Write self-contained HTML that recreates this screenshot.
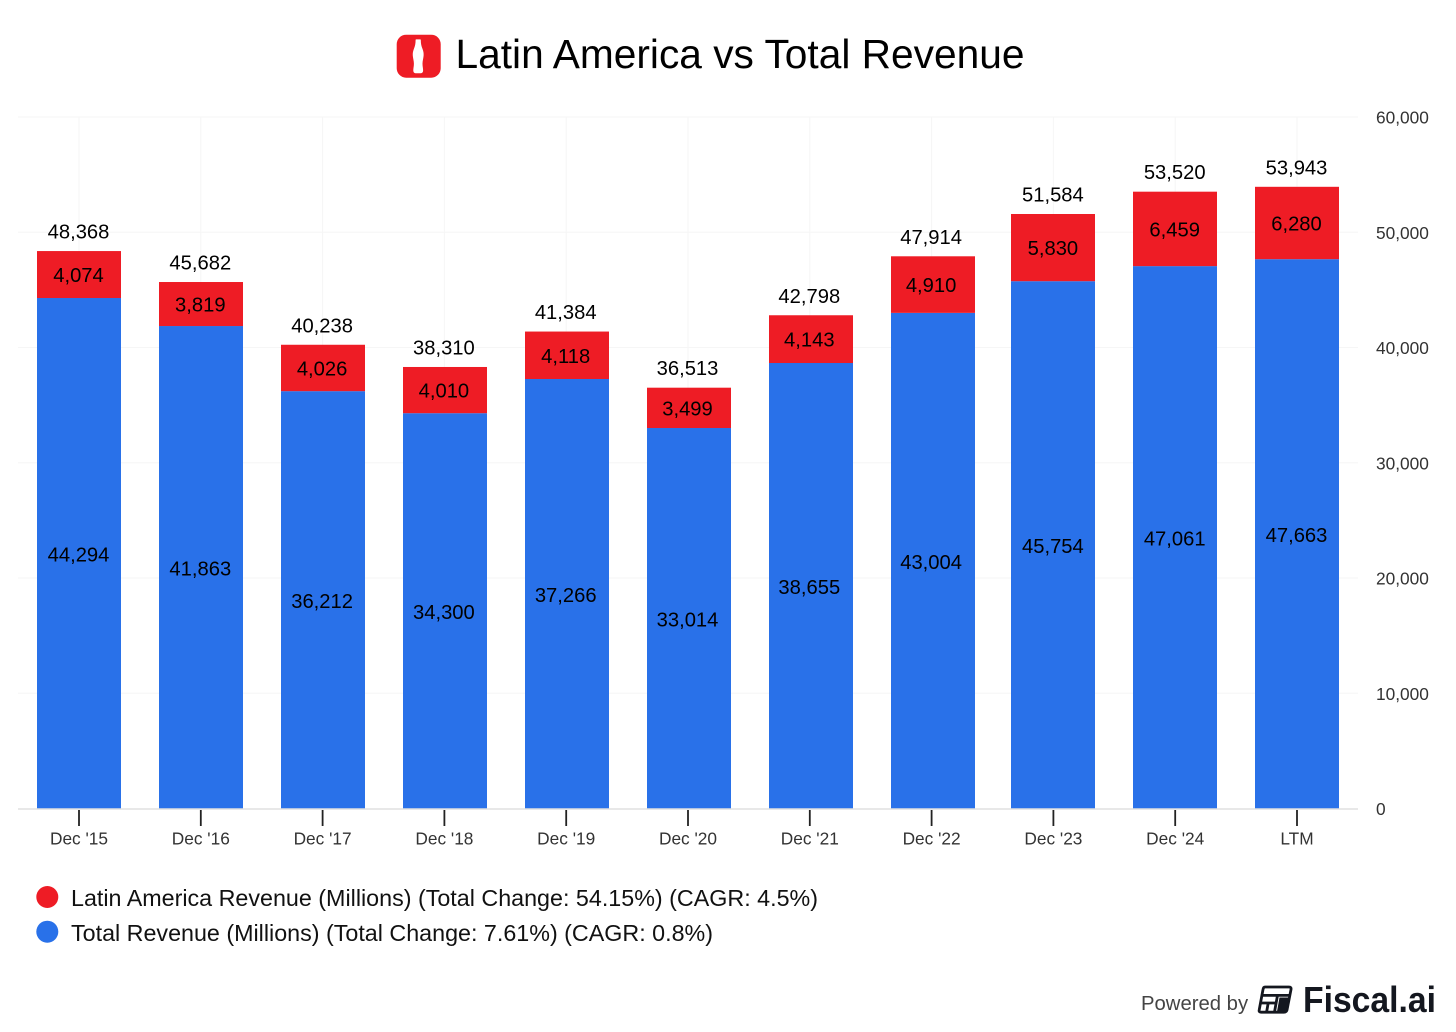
<!DOCTYPE html>
<html lang="en">
<head>
<meta charset="utf-8">
<title>Latin America vs Total Revenue</title>
<style>
  html, body { margin: 0; padding: 0; background: #ffffff; }
  body { width: 1456px; height: 1032px; overflow: hidden; }
  svg { display: block; font-family: "Liberation Sans", Arial, sans-serif; }
</style>
</head>
<body>
<svg id="chart" xmlns="http://www.w3.org/2000/svg" width="1456" height="1032" viewBox="0 0 1456 1032">
  <g>
    <rect x="396.7" y="34.7" width="44" height="43" rx="9.5" fill="#ee1c25"/>
    <path fill="#ffffff" d="M416.6 39.4 h3.6 c0.4 0 0.6 0.3 0.6 0.7 c0 3.6 0.6 6 1.7 8.8 c0.9 2.5 1.3 4.3 1.1 6.8 c-0.3 3.1 -1.1 5.2 -1.1 8 c0 2.8 0.7 4.8 0.6 7.1 c-0.1 1.5 -0.8 2.4 -2.2 2.4 h-5.4 c-1.4 0 -2.1 -0.9 -2.2 -2.4 c-0.1 -2.3 0.6 -4.3 0.6 -7.1 c0 -2.8 -0.8 -4.9 -1.1 -8 c-0.2 -2.5 0.2 -4.3 1.1 -6.8 c1.1 -2.8 1.7 -5.2 1.7 -8.8 c0 -0.4 0.2 -0.7 0.6 -0.7 z"/>
    <text x="455.5" y="68" font-size="40.4" fill="#000000" textLength="569" lengthAdjust="spacingAndGlyphs">Latin America vs Total Revenue</text>
  </g>
  <g id="grid"></g>
  <g id="bars"></g>
  <g id="xaxis"></g>
  <g id="yaxis"></g>
  <g id="labels"></g>
  <g>
    <g>
      <circle cx="47.3" cy="897" r="11" fill="#ee1c25"/>
      <text x="71" y="906" font-size="23" fill="#111111" textLength="747" lengthAdjust="spacingAndGlyphs">Latin America Revenue (Millions) (Total Change: 54.15%) (CAGR: 4.5%)</text>
    </g>
    <g>
      <circle cx="47.3" cy="931.7" r="11" fill="#2971e9"/>
      <text x="71" y="941" font-size="23" fill="#111111" textLength="642" lengthAdjust="spacingAndGlyphs">Total Revenue (Millions) (Total Change: 7.61%) (CAGR: 0.8%)</text>
    </g>
  </g>
  <g>
    <text x="1141" y="1010" font-size="20.3" fill="#444444">Powered by</text>
    <g fill="none" stroke="#14171f" stroke-width="2.8" stroke-linejoin="round">
      <path d="M1265 987 H1289 Q1291.5 987 1291 989.5 L1287 1010 Q1286.5 1012.2 1284 1012.2 H1261 Q1258.7 1012.2 1259.2 1010 L1263 989.5 Q1263.4 987 1265 987 Z"/>
      <path d="M1262 995.4 H1290 M1260.6 1003 H1277 M1277.5 995.4 L1274.5 1012 M1268.2 1003 L1266.6 1012"/>
      <path d="M1279.5 997.5 H1289 L1286 1011.5 H1277 Z" fill="#14171f" stroke="none"/>
    </g>
    <text x="1303" y="1012" font-size="36.5" font-weight="700" fill="#14171f" textLength="133" lengthAdjust="spacingAndGlyphs">Fiscal.ai</text>
  </g>
</svg>
<script>
const categories = ["Dec '15", "Dec '16", "Dec '17", "Dec '18", "Dec '19", "Dec '20", "Dec '21", "Dec '22", "Dec '23", "Dec '24", "LTM"];
const latinAmericaRevenue = [4074, 3819, 4026, 4010, 4118, 3499, 4143, 4910, 5830, 6459, 6280];
const totalRevenue = [44294, 41863, 36212, 34300, 37266, 33014, 38655, 43004, 45754, 47061, 47663];
const yTicks = [0, 10000, 20000, 30000, 40000, 50000, 60000];

const NS = 'http://www.w3.org/2000/svg';
const PLOT_BOTTOM = 808.5;
const PLOT_TOP = 117;
const PLOT_LEFT = 18;
const PLOT_RIGHT = 1358;
const BAR_WIDTH = 84;
const Y_MAX = 60000;

function y(value) {
  return PLOT_BOTTOM - (value / Y_MAX) * (PLOT_BOTTOM - PLOT_TOP);
}
function x(index) {
  return 79 + index * 121.8;
}
// Bars sit on a 2px-snapped grid in the source, so they drift slightly from tick centres.
function barLeft(index) {
  return 37 + index * 122 - (index > 7 ? 2 : 0);
}
function fmt(value) {
  return value.toLocaleString('en-US');
}
function make(tag, attrs, parent, content) {
  const el = document.createElementNS(NS, tag);
  Object.keys(attrs).forEach(function (k) { el.setAttribute(k, attrs[k]); });
  if (content !== undefined) el.textContent = content;
  parent.appendChild(el);
  return el;
}

const gridGroup = document.getElementById('grid');
const barsGroup = document.getElementById('bars');
const xGroup = document.getElementById('xaxis');
const yGroup = document.getElementById('yaxis');
const labelGroup = document.getElementById('labels');

yTicks.forEach(function (tick) {
  if (tick !== 0) {
    const line = make('line', { x1: PLOT_LEFT, x2: PLOT_RIGHT, y1: y(tick), y2: y(tick), stroke: '#f6f6f6', 'stroke-width': 1 }, gridGroup);
    
    
  }
  const label = make('text', { x: 1376, y: y(tick) + 6.7, 'font-size': 17.3, fill: '#333333' }, yGroup, fmt(tick));
  
  
});

const axisLine = make('line', { x1: PLOT_LEFT, x2: PLOT_RIGHT, y1: 809, y2: 809, stroke: '#e0e0e0', 'stroke-width': 1.5 }, xGroup);



categories.forEach(function (cat, i) {
  const cx = x(i);
  const vLine = make('line', { x1: cx, x2: cx, y1: PLOT_TOP, y2: PLOT_BOTTOM, stroke: '#f6f6f6', 'stroke-width': 1 }, gridGroup);
  
  

  const blue = totalRevenue[i];
  const red = latinAmericaRevenue[i];
  const left = barLeft(i);

  const blueBar = make('rect', { x: left, y: y(blue), width: BAR_WIDTH, height: PLOT_BOTTOM - y(blue), fill: '#2971e9' }, barsGroup);
  
  

  const redBar = make('rect', { x: left, y: y(blue + red), width: BAR_WIDTH, height: y(blue) - y(blue + red), fill: '#ee1c25' }, barsGroup);
  
  

  const tick = make('line', { x1: cx, x2: cx, y1: 810, y2: 826, stroke: '#222222', 'stroke-width': 1.8 }, xGroup);
  
  

  const tickLabel = make('text', { x: cx, y: 844.5, 'font-size': 17.3, fill: '#333333', 'text-anchor': 'middle' }, xGroup, cat);
  
  

  const lx = cx - 0.5;
  const blueLabel = make('text', { x: lx, y: (y(blue) + PLOT_BOTTOM) / 2 + 8.3, 'font-size': 20.2, fill: '#000000', 'text-anchor': 'middle' }, labelGroup, fmt(blue));
  
  

  const redLabel = make('text', { x: lx, y: (y(blue) + y(blue + red)) / 2 + 7.5, 'font-size': 20.2, fill: '#000000', 'text-anchor': 'middle' }, labelGroup, fmt(red));
  
  

  const sumLabel = make('text', { x: lx, y: y(blue + red) - 12.5, 'font-size': 20.2, fill: '#000000', 'text-anchor': 'middle' }, labelGroup, fmt(blue + red));
  
  
});
</script>
</body>
</html>
